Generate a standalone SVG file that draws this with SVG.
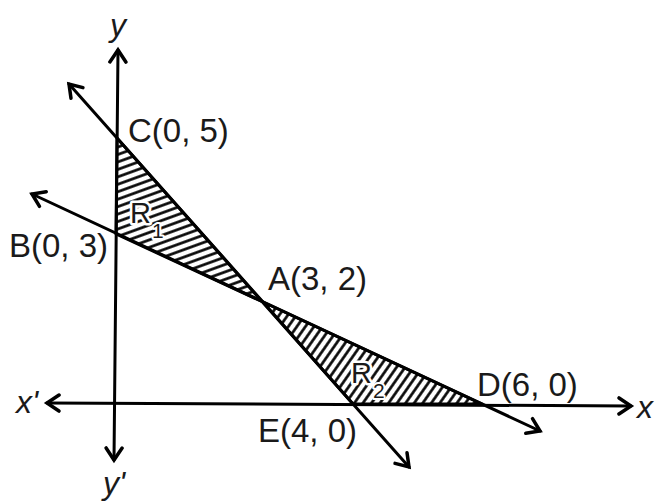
<svg xmlns="http://www.w3.org/2000/svg" width="656" height="501" viewBox="0 0 656 501">
<style>
.ln{stroke:#000;stroke-width:3;fill:none;stroke-linecap:round}
.lbl{font-family:"Liberation Sans",Arial,sans-serif;font-size:33px;fill:#1a1a1a}
.ax{font-family:"Liberation Sans",Arial,sans-serif;font-size:32px;font-style:italic;fill:#1a1a1a}
.reg{font-family:"Liberation Sans",Arial,sans-serif;font-size:29px;fill:#1a1a1a;stroke:#fff;stroke-width:5;paint-order:stroke;stroke-linejoin:round}
.sub{font-family:"Liberation Sans",Arial,sans-serif;font-size:21px;fill:#1a1a1a;stroke:#fff;stroke-width:4;paint-order:stroke;stroke-linejoin:round}
.shade{stroke:#000;stroke-width:3;stroke-linejoin:round}
</style>
<defs>
<marker id="arr" viewBox="-16 -10 20 20" refX="0" refY="0" markerWidth="20" markerHeight="20" markerUnits="userSpaceOnUse" orient="auto-start-reverse">
<path d="M-12,-8 L0,0 L-12,8" fill="none" stroke="#000" stroke-width="3.5" stroke-linecap="round" stroke-linejoin="miter"/>
</marker>
<pattern id="hatch1" patternUnits="userSpaceOnUse" width="7" height="7" patternTransform="rotate(-20)">
<rect width="7" height="7" fill="#fff"/>
<line x1="0" y1="3.5" x2="7" y2="3.5" stroke="#000" stroke-width="2.6"/>
</pattern>
<pattern id="hatch2" patternUnits="userSpaceOnUse" width="7" height="7" patternTransform="rotate(-55)">
<rect width="7" height="7" fill="#fff"/>
<line x1="0" y1="3.5" x2="7" y2="3.5" stroke="#000" stroke-width="2.6"/>
</pattern>
</defs>
<rect width="656" height="501" fill="#fff"/>
<g id="R1">
<polygon class="shade" points="117,138 263,302 116,234" fill="url(#hatch1)"/>
<text class="reg" x="130" y="223">R</text>
<text class="sub" x="152" y="238">1</text>
</g>
<g id="R2">
<polygon class="shade" points="263,302 353,404 482,404" fill="url(#hatch2)"/>
<text class="reg" x="351" y="383">R</text>
<text class="sub" x="373" y="398">2</text>
</g>
<g id="connectors">
<line id="y-axis" class="ln" x1="118" y1="50" x2="114" y2="460" marker-start="url(#arr)" marker-end="url(#arr)"/>
<line id="x-axis" class="ln" x1="47" y1="403" x2="631" y2="406" marker-start="url(#arr)" marker-end="url(#arr)"/>
<line id="line-CE" class="ln" x1="69" y1="84" x2="409" y2="467" marker-start="url(#arr)" marker-end="url(#arr)"/>
<line id="line-BD" class="ln" x1="32" y1="194" x2="540" y2="431" marker-start="url(#arr)" marker-end="url(#arr)"/>
</g>
<g id="axis-labels">
<text class="ax" x="110" y="36">y</text>
<text class="ax" x="103" y="494">y'</text>
<text class="ax" x="16" y="413">x'</text>
<text class="ax" x="637" y="418">x</text>
</g>
<g id="C"><text class="lbl" x="128" y="142">C(0, 5)</text></g>
<g id="B"><text class="lbl" x="9" y="257">B(0, 3)</text></g>
<g id="A"><text class="lbl" x="268" y="290">A(3, 2)</text></g>
<g id="E"><text class="lbl" x="258" y="442">E(4, 0)</text></g>
<g id="D"><text class="lbl" x="477" y="396">D(6, 0)</text></g>
</svg>
